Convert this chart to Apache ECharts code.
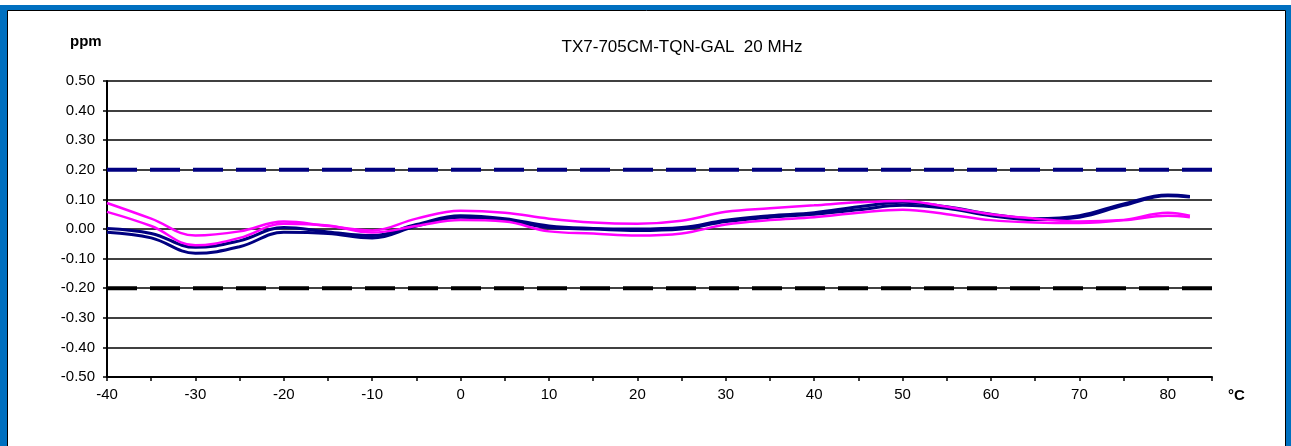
<!DOCTYPE html>
<html>
<head>
<meta charset="utf-8">
<script src="https://cdn.jsdelivr.net/npm/echarts@6/dist/echarts.min.js"></script>
<style>
html,body{margin:0;padding:0;background:#fff;}
#chart{width:1291px;height:446px;}
</style>
</head>
<body>
<div id="chart"></div>
<script>
const chartTitle = 'TX7-705CM-TQN-GAL  20 MHz';
const yUnit = 'ppm';
const xUnit = '°C';
const temps = [-40,-35,-30,-25,-20,-15,-10,-5,0,5,10,15,20,25,30,35,40,45,50,55,60,65,70,75,80,82.5];
const navyA = [0.002,-0.015,-0.062,-0.040,0.005,-0.010,-0.022,0.015,0.045,0.035,0.010,0.002,0.000,0.005,0.030,0.045,0.055,0.075,0.090,0.075,0.050,0.035,0.045,0.085,0.115,0.110];
const navyB = [-0.011,-0.030,-0.082,-0.060,-0.011,-0.015,-0.030,0.010,0.040,0.030,0.005,0.000,-0.005,0.000,0.025,0.040,0.050,0.065,0.080,0.070,0.045,0.032,0.040,0.080,0.112,0.108];
const magA = [0.088,0.035,-0.022,-0.008,0.025,0.010,-0.005,0.035,0.062,0.055,0.035,0.022,0.018,0.028,0.058,0.070,0.080,0.090,0.095,0.075,0.050,0.035,0.025,0.030,0.045,0.040];
const magB = [0.058,0.010,-0.055,-0.030,0.018,0.012,-0.012,0.010,0.030,0.025,-0.008,-0.015,-0.022,-0.015,0.015,0.030,0.040,0.055,0.065,0.050,0.030,0.022,0.020,0.030,0.055,0.045];
const upperLimit = 0.2;
const lowerLimit = -0.2;
const xRange = [-40, 85];
const yRange = [-0.5, 0.5];

const pair = (xs, ys) => xs.map((x, i) => [x, ys[i]]);
const font = 'Arial, "Liberation Sans", sans-serif';

const chart = echarts.init(document.getElementById('chart'), null, {renderer: 'canvas'});
chart.setOption({
  animation: false,
  backgroundColor: '#ffffff',
  graphic: [
    {type: 'rect', z: -10, silent: true, shape: {x: 0, y: 5, width: 1291, height: 460}, style: {fill: '#0070C0'}},
    {type: 'rect', z: -9, silent: true, shape: {x: 7.5, y: 10.5, width: 1278, height: 460}, style: {fill: '#ffffff', stroke: '#000000', lineWidth: 1}},
    {type: 'text', left: 70, top: 34, style: {text: yUnit, font: 'bold 15px ' + font, fill: '#000'}},
    {type: 'text', left: 1228, top: 388, style: {text: xUnit, font: 'bold 15px ' + font, fill: '#000'}}
  ],
  title: {
    text: chartTitle,
    left: 677, top: 34,
    textAlign: 'center',
    textStyle: {fontFamily: font, fontSize: 17, fontWeight: 'normal', color: '#000'}
  },
  grid: {left: 107, right: 79, top: 81, bottom: 69, containLabel: false},
  xAxis: {
    type: 'value', min: xRange[0], max: xRange[1], interval: 5,
    axisLine: {show: true, onZero: false, lineStyle: {color: '#000', width: 2}},
    axisTick: {show: true, length: 4, lineStyle: {color: '#000', width: 1.5}},
    splitLine: {show: false},
    axisLabel: {
      margin: 10, color: '#000', fontFamily: font, fontSize: 15,
      formatter: v => (Math.round(v) % 10 === 0 ? String(Math.round(v)) : '')
    }
  },
  yAxis: {
    type: 'value', min: yRange[0], max: yRange[1], interval: 0.1,
    axisLine: {show: true, onZero: false, lineStyle: {color: '#000', width: 2}},
    axisTick: {show: true, length: 4, lineStyle: {color: '#000', width: 1.5}},
    splitLine: {show: true, lineStyle: {color: '#000', width: 1.5}},
    axisLabel: {
      margin: 12, color: '#000', fontFamily: font, fontSize: 15,
      formatter: v => v.toFixed(2)
    }
  },
  series: [
    {type: 'line', data: pair(xRange, [upperLimit, upperLimit]), symbol: 'none', lineStyle: {color: '#000080', width: 4, type: [30, 13]}, z: 3},
    {type: 'line', data: pair(xRange, [lowerLimit, lowerLimit]), symbol: 'none', lineStyle: {color: '#000000', width: 4, type: [30, 13]}, z: 3},
    {type: 'line', data: pair(temps, navyA), symbol: 'none', smooth: 0.4, lineStyle: {color: '#000080', width: 3}, z: 4},
    {type: 'line', data: pair(temps, navyB), symbol: 'none', smooth: 0.4, lineStyle: {color: '#000080', width: 3}, z: 4},
    {type: 'line', data: pair(temps, magA), symbol: 'none', smooth: 0.4, lineStyle: {color: '#FF00FF', width: 2.5}, z: 5},
    {type: 'line', data: pair(temps, magB), symbol: 'none', smooth: 0.4, lineStyle: {color: '#FF00FF', width: 2.5}, z: 5}
  ]
});
</script>
</body>
</html>
